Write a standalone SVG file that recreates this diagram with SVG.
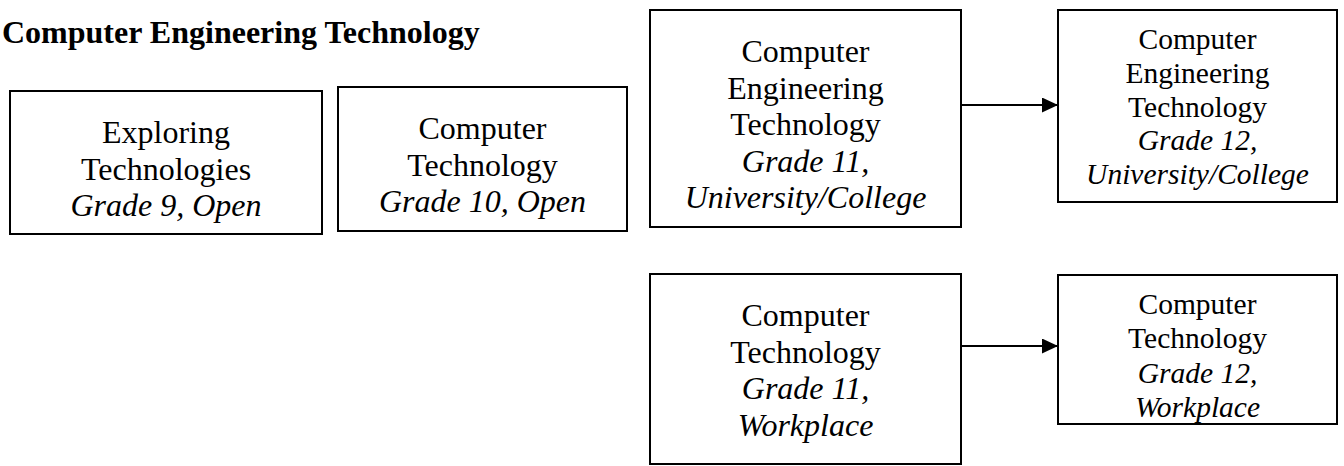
<svg xmlns="http://www.w3.org/2000/svg" width="1344" height="466" viewBox="0 0 1344 466">
<defs>
<style>
.box{fill:#fff;stroke:#000;stroke-width:2}
.t{font-family:"Liberation Serif","Times New Roman",serif;font-size:32px;fill:#000;text-anchor:middle}
.s{font-size:29.5px}
.i{font-style:italic}
.title{font-family:"Liberation Serif","Times New Roman",serif;font-size:32px;font-weight:bold;fill:#000}
.conn{stroke:#000;stroke-width:2;fill:none}
</style>
<marker id="ah" markerWidth="16" markerHeight="15" refX="16" refY="7.5" orient="auto" markerUnits="userSpaceOnUse">
<path d="M0,0 L16,7.5 L0,15 Z" fill="#000"/>
</marker>
</defs>
<rect width="1344" height="466" fill="#fff"/>
<text class="title" x="2" y="43">Computer Engineering Technology</text>
<g id="n1">
<rect class="box" x="10" y="91" width="312" height="143"/>
<text class="t" x="166" y="143">Exploring</text>
<text class="t" x="166" y="179.5">Technologies</text>
<text class="t i" x="166" y="216">Grade 9, Open</text>
</g>
<g id="n2">
<rect class="box" x="338" y="87" width="289" height="144"/>
<text class="t" x="482.5" y="139">Computer</text>
<text class="t" x="482.5" y="175.5">Technology</text>
<text class="t i" x="482.5" y="212">Grade 10, Open</text>
</g>
<g id="n3">
<rect class="box" x="650" y="10" width="311" height="217"/>
<text class="t" x="805.5" y="62">Computer</text>
<text class="t" x="805.5" y="98.5">Engineering</text>
<text class="t" x="805.5" y="135">Technology</text>
<text class="t i" x="805.5" y="171.5">Grade 11,</text>
<text class="t i" x="805.5" y="208">University/College</text>
</g>
<g id="n4">
<rect class="box" x="1058" y="10" width="279" height="192"/>
<text class="t s" x="1197.5" y="49">Computer</text>
<text class="t s" x="1197.5" y="82.8">Engineering</text>
<text class="t s" x="1197.5" y="116.6">Technology</text>
<text class="t s i" x="1197.5" y="150.4">Grade 12,</text>
<text class="t s i" x="1197.5" y="184.2">University/College</text>
</g>
<g id="n5">
<rect class="box" x="650" y="274" width="311" height="190"/>
<text class="t" x="805.5" y="326">Computer</text>
<text class="t" x="805.5" y="362.5">Technology</text>
<text class="t i" x="805.5" y="399">Grade 11,</text>
<text class="t i" x="805.5" y="435.5">Workplace</text>
</g>
<g id="n6">
<rect class="box" x="1058" y="275" width="279" height="149"/>
<text class="t s" x="1197.5" y="314">Computer</text>
<text class="t s" x="1197.5" y="348">Technology</text>
<text class="t s i" x="1197.5" y="382.5">Grade 12,</text>
<text class="t s i" x="1197.5" y="416.5">Workplace</text>
</g>
<g id="connectors">
<line class="conn" x1="961" y1="105" x2="1058" y2="105" marker-end="url(#ah)"/>
<line class="conn" x1="961" y1="346" x2="1058" y2="346" marker-end="url(#ah)"/>
</g>
</svg>
